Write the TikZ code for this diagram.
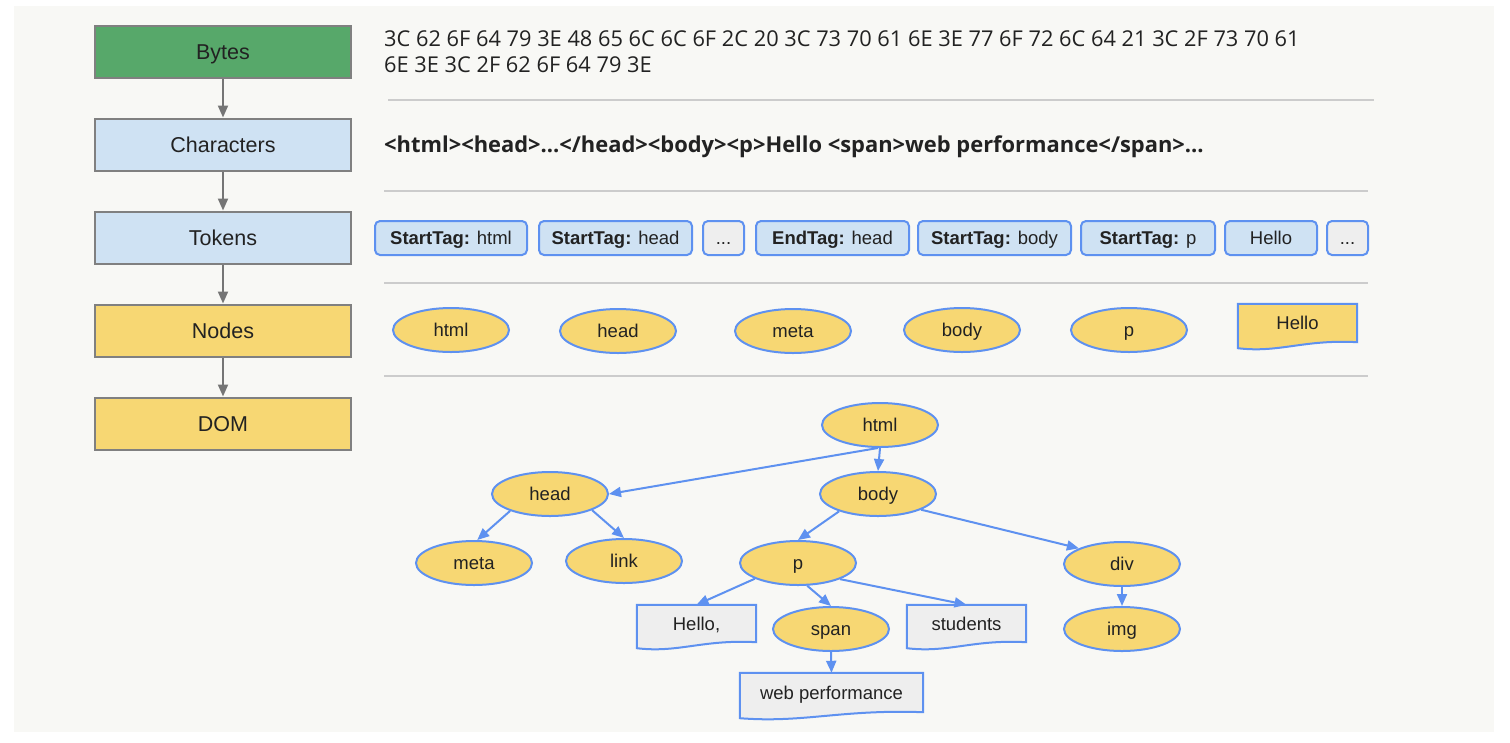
\documentclass[tikz,border=0pt]{standalone}
\usepackage{fontspec}
\setmainfont{Liberation Sans}
\newfontfamily\osans{Open Sans}
\usetikzlibrary{shapes.geometric,arrows.meta,calc}
\pgfdeclarelayer{bottom}
\pgfdeclarelayer{shapes}
\pgfsetlayers{bottom,shapes,main}
\definecolor{bg}{RGB}{248,248,245}
\definecolor{bgreen}{RGB}{87,168,106}
\definecolor{lblue}{RGB}{207,226,243}
\definecolor{nyellow}{RGB}{247,215,115}
\definecolor{lgray}{RGB}{238,238,238}
\definecolor{tblue}{RGB}{94,145,240}
\definecolor{sgray}{RGB}{128,128,128}
\definecolor{agray}{RGB}{117,117,117}
\definecolor{sepgray}{RGB}{204,204,204}
\definecolor{txt}{RGB}{34,34,34}
\newcommand{\mywave}[3]{%
  \begin{pgfonlayer}{shapes}
  \filldraw[draw=tblue, line width=2pt, fill=#2] (#1.north west) -- (#1.north east) -- (#1.south east)
    .. controls ([xshift=-0.45*#3pt, yshift=3pt]#1.south east) and ([xshift=0.35*#3pt, yshift=-11pt]#1.south west)
    .. ([yshift=-6pt]#1.south west) -- cycle;
  \end{pgfonlayer}}
\begin{document}
\begin{tikzpicture}[x=1pt,y=-1pt,
  stage/.style={draw=sgray, line width=2pt, minimum width=256pt, minimum height=52pt, inner sep=0pt,
    font=\fontsize{21.5}{25}\selectfont, text=txt, text height=15.5pt, text depth=0pt},
  tok/.style={draw=tblue, line width=2pt, rounded corners=5pt, fill=lblue, minimum height=34pt, inner sep=0pt,
    font=\fontsize{18.5}{22}\selectfont, text=txt, text height=13.3pt, text depth=0pt},
  ell/.style={ellipse, draw=tblue, line width=2pt, fill=nyellow, minimum width=116pt, minimum height=44pt, inner sep=0pt,
    font=\fontsize{18.5}{22}\selectfont, text=txt, text height=13.3pt, text depth=0pt},
  wav/.style={inner sep=0pt, font=\fontsize{18.5}{22}\selectfont, text=txt, text height=13.3pt, text depth=0pt},
  edge/.style={draw=tblue, line width=2pt, -{Triangle[length=12pt,width=10pt]}},
  garrow/.style={draw=agray, line width=2pt, -{Triangle[length=12pt,width=10pt]}},
  sep/.style={draw=sepgray, line width=2pt}
]
\useasboundingbox (0,0) rectangle (1510,742);
\begin{pgfonlayer}{bottom}
\fill[bg] (14,6) rectangle (1494,732);
\end{pgfonlayer}

% left column
\node[stage, fill=bgreen] (bytes) at (223,52) {Bytes};
\node[stage, fill=lblue] (chars) at (223,144.5) {Characters};
\node[stage, fill=lblue] (tokens) at (223,237.5) {Tokens};
\node[stage, fill=nyellow] (nodes) at (223,330.5) {Nodes};
\node[stage, fill=nyellow] (dom) at (223,423.5) {DOM};
\draw[garrow] (bytes) -- (chars);
\draw[garrow] (chars) -- (tokens);
\draw[garrow] (tokens) -- (nodes);
\draw[garrow] (nodes) -- (dom);

% separators
\draw[sep] (388,100) -- (1374,100);
\draw[sep] (384,191) -- (1368,191);
\draw[sep] (384,283) -- (1368,283);
\draw[sep] (384,376) -- (1368,376);

% bytes text
\node[anchor=base west, inner sep=0pt, font=\osans\fontsize{21.8}{25}\selectfont, text=txt] (hex1) at (384,46.5)
  {3C 62 6F 64 79 3E 48 65 6C 6C 6F 2C 20 3C 73 70 61 6E 3E 77 6F 72 6C 64 21 3C 2F 73 70 61};
\node[anchor=base west, inner sep=0pt, font=\osans\fontsize{21.8}{25}\selectfont, text=txt] (hex2) at (384,72)
  {6E 3E 3C 2F 62 6F 64 79 3E};

% characters text
\node[anchor=base west, inner sep=0pt, font=\osans\bfseries\fontsize{21.9}{25}\selectfont, text=txt] (chartext) at (384,152)
  {<html><head>...</head><body><p>Hello <span>web performance</span>...};

% tokens
\node[tok, minimum width=152pt] (t1) at (451,238) {\textbf{StartTag:} html};
\node[tok, minimum width=153pt] (t2) at (615.5,238) {\textbf{StartTag:} head};
\node[tok, minimum width=41pt, fill=lgray] (t3) at (723.5,238) {...};
\node[tok, minimum width=153pt] (t4) at (832.5,238) {\textbf{EndTag:} head};
\node[tok, minimum width=153pt] (t5) at (994.5,238) {\textbf{StartTag:} body};
\node[tok, minimum width=134pt] (t6) at (1148,238) {\textbf{StartTag:} p};
\node[tok, minimum width=92pt] (t7) at (1271,238) {Hello};
\node[tok, minimum width=41pt, fill=lgray] (t8) at (1347.5,238) {...};

% nodes row
\node[ell] (n1) at (451,330) {html};
\node[ell] (n2) at (618,331) {head};
\node[ell] (n3) at (793,331) {meta};
\node[ell] (n4) at (962,330) {body};
\node[ell] (n5) at (1129,330) {p};
\node[wav, minimum width=119pt, minimum height=38pt] (n6) at (1297.5,323) {Hello};
\mywave{n6}{nyellow}{119}

% DOM tree
\node[ell] (dhtml) at (880,425) {html};
\node[ell] (dhead) at (550,494) {head};
\node[ell] (dbody) at (878,494) {body};
\node[ell] (dmeta) at (474,563) {meta};
\node[ell] (dlink) at (624,561) {link};
\node[ell] (dp) at (798,563) {p};
\node[ell] (dspan) at (831,629) {span};
\node[ell] (ddiv) at (1122,564) {div};
\node[ell] (dimg) at (1122,629) {img};
\node[wav, minimum width=119pt, minimum height=37pt] (dhello) at (696.5,623.5) {Hello,};
\mywave{dhello}{lgray}{119}
\node[wav, minimum width=119pt, minimum height=37pt] (dstud) at (966.5,623.5) {students};
\mywave{dstud}{lgray}{119}
\node[wav, minimum width=183pt, minimum height=39pt] (dweb) at (831.5,692.5) {web performance};
\mywave{dweb}{lgray}{183}

\draw[edge] (dhtml.265) -- (dhead.east);
\draw[edge] (dhtml.south) -- (dbody.north);
\draw[edge] (dhead.203) -- (dmeta.82);
\draw[edge] (dhead.339) -- (dlink.north);
\draw[edge] (dbody.204) -- (dp.north);
\draw[edge] (dbody.340) -- (ddiv.160);
\draw[edge] (dp.200) -- (dhello.north);
\draw[edge] (dp.292) -- (dspan.north);
\draw[edge] (dp.339) -- (dstud.north);
\draw[edge] (dspan.south) -- (dweb.north);
\draw[edge] (ddiv.south) -- (dimg.north);
\end{tikzpicture}
\end{document}
